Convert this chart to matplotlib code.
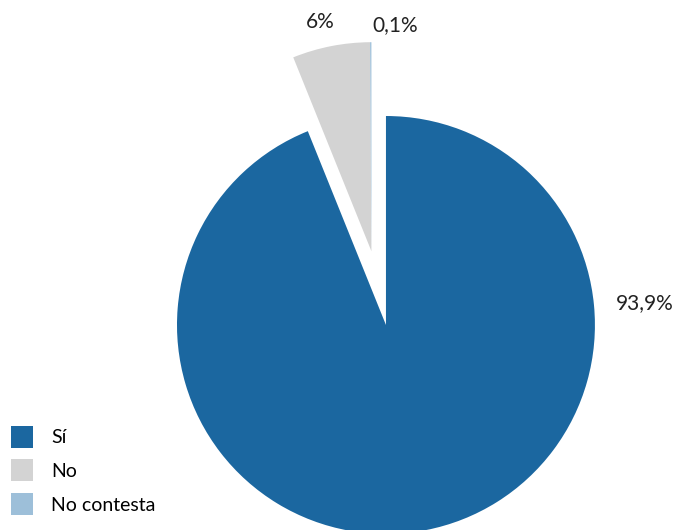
import matplotlib
matplotlib.use("Agg")
import matplotlib.pyplot as plt

labels = ["Sí", "No", "No contesta"]
values = [93.9, 6.0, 0.1]
value_text = ["93,9%", "6%", "0,1%"]
colors = ["#1b67a0", "#d3d3d3", "#9dbfd9"]

plt.rcParams["font.family"] = ["Lato", "DejaVu Sans"]

fig = plt.figure(figsize=(6.76, 5.30), dpi=100)
ax = fig.add_axes([0, 0, 1, 1])
wedges, _ = ax.pie(values, colors=colors, startangle=90, counterclock=False,
                   explode=[0, 0.36, 0], radius=1.0)
# the two small slices are pulled out together
wedges[2].set_center(wedges[1].center)

ax.set_xlim(-1.847, 1.388)
ax.set_ylim(-0.981, 1.555)
ax.set_aspect("equal")
ax.axis("off")

label_pos = [(1.239, 0.105), (-0.316, 1.45), (0.045, 1.435)]
for txt, (x, y) in zip(value_text, label_pos):
    ax.text(x, y, txt, ha="center", va="center", fontsize=15, color="#222222")

fig.legend(wedges, labels, loc="lower left", bbox_to_anchor=(11 / 676, 15 / 530),
           frameon=False, fontsize=14, handlelength=1.13, handleheight=1.36,
           handletextpad=0.93, labelspacing=0.6, borderpad=0, borderaxespad=0)

fig.savefig("out.png", dpi=100)
